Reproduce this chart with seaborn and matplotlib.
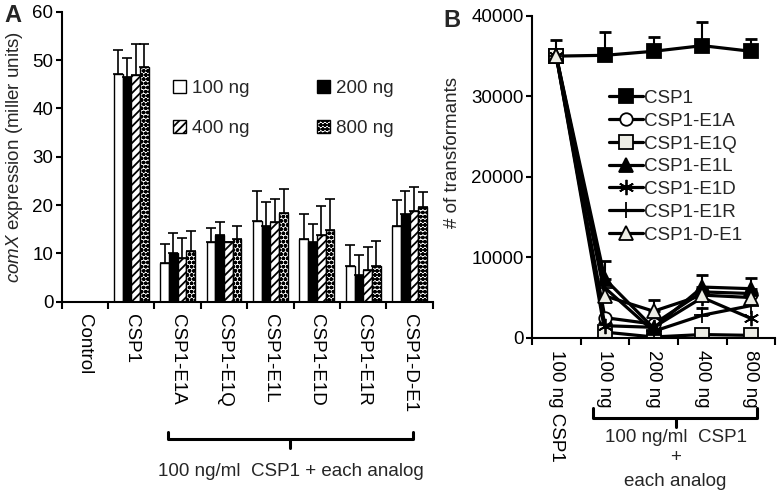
import numpy as np, pandas as pd
import matplotlib; matplotlib.use("Agg")
import matplotlib.pyplot as plt
import matplotlib.transforms as mtrans
import seaborn as sns

sns.set_style("ticks")
plt.rcParams["font.family"] = ["Liberation Sans", "DejaVu Sans"]
plt.rcParams.update({"mathtext.fontset": "custom", "mathtext.it": "Liberation Sans:italic",
                     "mathtext.rm": "Liberation Sans", "hatch.linewidth": 1.3, "font.size": 13.5,
                     "axes.linewidth": 1.5, "xtick.major.width": 1.5, "ytick.major.width": 1.5,
                     "xtick.minor.width": 1.5, "xtick.color": "black", "ytick.color": "black",
                     "axes.edgecolor": "black"})

# ---------- panel A: comX expression ----------
groups = ["Control", "CSP1", "CSP1-E1A", "CSP1-E1Q", "CSP1-E1L", "CSP1-E1D", "CSP1-E1R", "CSP1-D-E1"]
doses = ["100 ng", "200 ng", "400 ng", "800 ng"]
comx_100 = [0, 47.2, 8.0, 12.4, 16.6, 12.9, 7.4, 15.7]
comx_200 = [0, 46.5, 10.0, 13.7, 15.7, 12.4, 5.6, 18.1]
comx_400 = [0, 46.9, 9.1, 12.4, 16.5, 13.8, 6.6, 18.8]
comx_800 = [0, 48.5, 10.5, 12.9, 18.4, 14.8, 7.4, 19.5]
err_100 = [0, 5.0, 3.9, 2.8, 6.3, 5.2, 4.3, 5.3]
err_200 = [0, 4.0, 4.1, 2.7, 5.0, 3.7, 4.1, 4.7]
err_400 = [0, 6.4, 4.1, 0.0, 4.8, 5.9, 4.8, 5.0]
err_800 = [0, 4.9, 4.2, 2.8, 4.9, 6.4, 5.2, 3.1]

# ---------- panel B: transformants ----------
conds = ["100 ng CSP1", "100 ng", "200 ng", "400 ng", "800 ng"]
peptides = ["CSP1", "CSP1-E1A", "CSP1-E1Q", "CSP1-E1L", "CSP1-E1D", "CSP1-E1R", "CSP1-D-E1"]
tr_csp1 = [35000, 35100, 35600, 36300, 35600]
tr_e1a = [35000, 2500, 1700, 5700, 5500]
tr_e1q = [35000, 700, 100, 400, 300]
tr_e1l = [35000, 7300, 1200, 6300, 6100]
tr_e1d = [35000, 1500, 1300, 5000, 2400]
tr_e1r = [35000, 6200, 800, 2800, 4000]
tr_de1 = [35000, 5200, 3300, 5300, 5000]
trerr_csp1 = [2000, 2900, 1800, 2900, 1500]
trerr_e1l = [0, 2200, 0, 1500, 1300]
trerr_e1r = [0, 0, 0, 900, 0]
trerr_de1 = [0, 0, 1400, 0, 0]

fig = plt.figure(figsize=(7.8, 4.96), dpi=100)
axA = fig.add_axes([0.079, 0.392, 0.476, 0.584])
axB = fig.add_axes([0.682, 0.319, 0.312, 0.649])

# ===== A =====
vals = [comx_100, comx_200, comx_400, comx_800]
errs = [err_100, err_200, err_400, err_800]
dfA = pd.DataFrame([{"group": g, "dose": d, "val": v[i]}
                    for d, v in zip(doses, vals) for i, g in enumerate(groups)])
sns.barplot(data=dfA, x="group", y="val", hue="dose", order=groups, hue_order=doses,
            palette=["white", "black", "white", "white"], edgecolor="black", linewidth=1,
            width=0.75, errorbar=None, legend=False, ax=axA)
hatches = [None, None, "////", "oooo"]
for cont, h, v, e in zip(axA.containers, hatches, vals, errs):
    xs, ys, es = [], [], []
    for bar, vv, ee in zip(cont.patches, v, e):
        if h: bar.set_hatch(h)
        if vv > 0:
            xs.append(bar.get_x() + bar.get_width() / 2); ys.append(vv); es.append(ee)
    axA.errorbar(xs, ys, yerr=[np.zeros(len(es)), es], fmt="none", ecolor="black",
                 elinewidth=1.2, capsize=3.5, capthick=1.2, zorder=1)
c = axA.containers
axA.legend([c[0], c[2], c[1], c[3]], [doses[0], doses[2], doses[1], doses[3]], ncol=2,
           loc="upper left", bbox_to_anchor=(0.3, 0.765), frameon=False, borderaxespad=0,
           borderpad=0, handlelength=0.7, handleheight=0.7, handletextpad=0.3,
           labelspacing=1.2, columnspacing=3.6, fontsize=13.5)
axA.set_xlim(-0.5, 7.5); axA.set_ylim(0, 60)
axA.set_yticks(range(0, 61, 10))
axA.set_xticks(range(8)); axA.set_xticklabels(groups, rotation=270, va="top", ha="center")
axA.set_xticks(np.arange(-0.5, 8, 1), minor=True)
axA.tick_params(axis="x", which="major", length=0, pad=9, labelsize=13.5)
axA.tick_params(axis="x", which="minor", length=5, direction="out")
axA.tick_params(axis="y", length=4, direction="out", labelsize=13.5, pad=2)
axA.set_xlabel(""); axA.set_ylabel(r"$\mathit{comX}$ expression (miller units)", fontsize=13.5)
axA.yaxis.set_label_coords(-0.098, 0.5)
sns.despine(ax=axA)

# ===== B =====
xB = np.arange(len(conds))
series = [tr_csp1, tr_e1a, tr_e1q, tr_e1l, tr_e1d, tr_e1r, tr_de1]
markers = ["s", "o", "s", "^", (6, 2, 0), "+", "^"]
faces = ["black", "white", "#ecece4", "black", "black", "black", "#ecece4"]
msizes = [10, 9, 10, 10, 11, 12, 10]
for name, s, m, f, ms in zip(peptides, series, markers, faces, msizes):
    sns.lineplot(x=xB, y=s, ax=axB, color="black", lw=2.3, marker=m, markersize=ms,
                 markerfacecolor=f, markeredgecolor="black", markeredgewidth=1.3, label=name)
for s, e in [(tr_csp1, trerr_csp1), (tr_e1l, trerr_e1l), (tr_e1r, trerr_e1r), (tr_de1, trerr_de1)]:
    e = np.array(e); keep = e > 0
    axB.errorbar(xB[keep], np.array(s)[keep], yerr=[np.zeros(keep.sum()), e[keep]], fmt="none",
                 ecolor="black", elinewidth=1.5, capsize=4, capthick=2, zorder=1)
axB.legend(loc="upper left", bbox_to_anchor=(0.315, 0.77), frameon=False, borderaxespad=0,
           borderpad=0, handlelength=1.85, handletextpad=0.05, labelspacing=0.3, fontsize=13.5)
axB.set_xlim(-0.5, 4.5); axB.set_ylim(0, 40000)
axB.set_yticks(range(0, 40001, 10000))
axB.set_xticks(xB); axB.set_xticklabels(conds, rotation=270, va="top", ha="center")
axB.set_xticks(np.arange(-0.5, 5, 1), minor=True)
axB.tick_params(axis="x", which="major", length=0, pad=9, labelsize=13.5)
axB.tick_params(axis="x", which="minor", length=5, direction="out")
axB.tick_params(axis="y", length=4, direction="out", labelsize=13.5, pad=2)
axB.set_ylabel("# of transformants", fontsize=13.5)
axB.yaxis.set_label_coords(-0.29, 0.577)
sns.despine(ax=axB)

# ===== brackets & notes =====
def bracket(ax, x0, x1, xm, ytop, ybar, ytip):
    tr = mtrans.blended_transform_factory(ax.transData, fig.transFigure)
    yt, yb, yp = [1 - v / 496 for v in (ytop, ybar, ytip)]
    ax.plot([x0, x0, x1, x1], [yt, yb, yb, yt], color="black", lw=2.2, transform=tr, clip_on=False)
    ax.plot([xm, xm], [yb, yp], color="black", lw=2.2, transform=tr, clip_on=False)
    return tr

trA = bracket(axA, 1.8, 7.07, 4.43, 432, 439, 448)
axA.text(4.43, 1 - 472 / 496, "100 ng/ml  CSP1 + each analog", transform=trA, ha="center",
         va="center", fontsize=13.5)
trB = bracket(axB, 0.76, 4.13, 2.45, 408, 418, 427)
axB.text(2.45, 1 - 437 / 496, "100 ng/ml  CSP1", transform=trB, ha="center", va="center", fontsize=13.5)
axB.text(2.45, 1 - 458 / 496, "+", transform=trB, ha="center", va="center", fontsize=13.5)
axB.text(2.45, 1 - 482 / 496, "each analog", transform=trB, ha="center", va="center", fontsize=13.5)

fig.text(4 / 780, 1 - 22 / 496, "A", fontsize=17, weight="bold", va="baseline")
fig.text(443 / 780, 1 - 27 / 496, "B", fontsize=17, weight="bold", va="baseline")

fig.savefig("out.png", dpi=100, facecolor="white")
